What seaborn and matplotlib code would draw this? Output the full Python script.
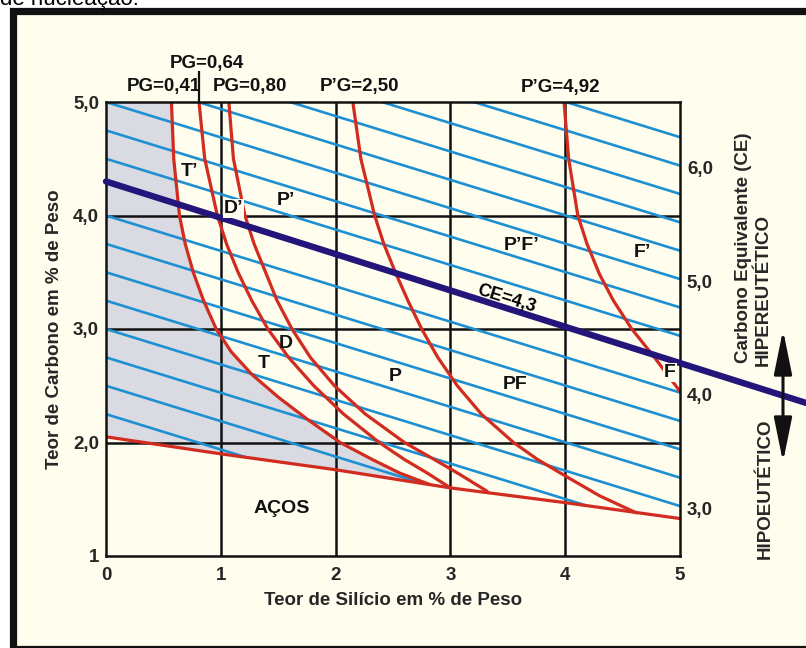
import numpy as np
import pandas as pd
import matplotlib
matplotlib.use("Agg")
import matplotlib.pyplot as plt
from matplotlib.patches import Rectangle, FancyArrowPatch
import seaborn as sns

# ---------------- data ----------------
# Graphitization-potential isolines (Si % vs C %)
pg041_si = [0.57, 0.59, 0.64, 0.69, 0.76, 0.85, 0.96, 1.09, 1.27, 1.50, 1.76, 2.04, 2.32, 2.56, 2.82]
pg041_c = [5.00, 4.50, 4.00, 3.75, 3.50, 3.25, 3.00, 2.80, 2.60, 2.40, 2.20, 2.00, 1.85, 1.73, 1.63]

pg064_si = [0.81, 0.86, 0.97, 1.05, 1.15, 1.27, 1.41, 1.59, 1.81, 2.07, 2.38, 2.60, 2.80, 3.00]
pg064_c = [5.00, 4.50, 4.00, 3.75, 3.50, 3.25, 3.00, 2.75, 2.50, 2.25, 2.00, 1.85, 1.73, 1.60]

pg080_si = [1.07, 1.11, 1.21, 1.29, 1.39, 1.49, 1.62, 1.78, 1.99, 2.26, 2.60, 2.86, 3.08, 3.32]
pg080_c = [5.00, 4.50, 4.00, 3.75, 3.50, 3.25, 3.00, 2.75, 2.50, 2.25, 2.00, 1.85, 1.72, 1.57]

ppg250_si = [2.15, 2.22, 2.34, 2.42, 2.52, 2.63, 2.75, 2.89, 3.06, 3.27, 3.55, 3.76, 4.01, 4.30, 4.62]
ppg250_c = [5.00, 4.50, 4.00, 3.75, 3.50, 3.25, 3.00, 2.75, 2.50, 2.25, 2.00, 1.85, 1.70, 1.53, 1.38]

ppg492_si = [3.99, 4.03, 4.11, 4.19, 4.30, 4.42, 4.58, 4.77, 5.00]
ppg492_c = [5.00, 4.50, 4.00, 3.75, 3.48, 3.25, 3.00, 2.76, 2.45]

# Lower limit of the cast-iron field (steels below)
boundary_si = [0, 1, 2, 3, 4, 5]
boundary_c = [2.05, 1.90, 1.76, 1.60, 1.47, 1.33]

# Constant carbon-equivalent lines
ce_levels = [2.25, 2.50, 2.75, 3.00, 3.25, 3.50, 3.75, 4.00,
             4.50, 4.75, 5.00, 5.25, 5.50, 5.75, 6.00, 6.25]
ce_slope = 0.312
eutectic_ce = 4.3
eutectic_slope = 0.32
eutectic_si_end = 6.1
ce_offset = 1.58

x_ticks = [0, 1, 2, 3, 4, 5]
x_ticklabels = ["0", "1", "2", "3", "4", "5"]
y_ticks = [1, 2, 3, 4, 5]
y_ticklabels = ["1", "2,0", "3,0", "4,0", "5,0"]
ce_ticks = [3, 4, 5, 6]
ce_ticklabels = ["3,0", "4,0", "5,0", "6,0"]

region_labels = ["T’", "D’", "P’", "T", "D", "P", "P’F’", "F’", "PF", "F", "AÇOS"]
region_si = [0.73, 1.11, 1.57, 1.37, 1.57, 2.52, 3.62, 4.67, 3.56, 4.91, 1.53]
region_c = [4.39, 4.06, 4.13, 2.70, 2.87, 2.58, 3.74, 3.67, 2.51, 2.62, 1.42]

curve_labels = ["PG=0,41", "PG=0,64", "PG=0,80", "P’G=2,50", "P’G=4,92"]
curve_label_si = [0.50, 0.88, 1.25, 2.21, 3.96]
curve_label_c = [5.14, 5.34, 5.14, 5.14, 5.13]

# ---------------- style ----------------
CREAM = "#FFFEEE"
RED = "#D22B1F"
BLUE = "#1E90D2"
NAVY = "#24157A"
GREY = "#D9DAE2"
INK = "#111111"
FS = 13.5

sns.set_theme(style="white")
plt.rcParams["font.family"] = ["Liberation Sans", "DejaVu Sans"]
plt.rcParams["font.weight"] = "bold"
plt.rcParams["axes.labelweight"] = "bold"

fig = plt.figure(figsize=(8.06, 6.48), dpi=100, facecolor="white")
W, H = 806, 648

# page frame
frame = Rectangle((13.5 / W, 1 - 649 / H), (830 - 13.5) / W, (649 - 11) / H,
                  transform=fig.transFigure, facecolor=CREAM, edgecolor=INK,
                  linewidth=5.2, zorder=-1)
fig.add_artist(frame)
fig.text(0.0, 1 - 4.5 / H, "de nucleação.", fontsize=16, fontweight="normal",
         va="baseline", ha="left", color="black")

ax = fig.add_axes([106 / W, 1 - 556 / H, 574 / W, 454 / H])
ax.set_facecolor(CREAM)
ax.set_xlim(0, 5)
ax.set_ylim(1, 5)

# grey field left of the PG=0,41 line
end_si = pg041_si[-1]
tail = [(s, c) for s, c in zip(boundary_si[::-1], boundary_c[::-1]) if s < end_si]
poly_x = [0] + pg041_si + [s for s, _ in tail]
poly_y = [5] + pg041_c + [c for _, c in tail]
ax.fill(poly_x, poly_y, color=GREY, lw=0, zorder=0.3)

# grid
for gx in [1, 2, 3, 4]:
    ax.axvline(gx, color=INK, lw=1.8, zorder=0.6)
for gy in [2, 3, 4]:
    ax.axhline(gy, color=INK, lw=1.8, zorder=0.6)

# constant-CE lines, cut at the lower boundary
si_dense = np.linspace(0, 5, 1001)
floor = np.interp(si_dense, boundary_si, boundary_c)
parts = []
for ce in ce_levels:
    c = ce - ce_slope * si_dense
    keep = c >= floor
    parts.append(pd.DataFrame({"si": si_dense[keep], "c": c[keep], "ce": ce}))
iso = pd.concat(parts, ignore_index=True)
sns.lineplot(data=iso, x="si", y="c", units="ce", estimator=None, sort=False,
             color=BLUE, lw=1.9, ax=ax, legend=False, zorder=1)

# graphitization isolines and boundary
curves = pd.concat([
    pd.DataFrame({"si": pg041_si, "c": pg041_c, "curve": "PG=0,41"}),
    pd.DataFrame({"si": pg064_si, "c": pg064_c, "curve": "PG=0,64"}),
    pd.DataFrame({"si": pg080_si, "c": pg080_c, "curve": "PG=0,80"}),
    pd.DataFrame({"si": ppg250_si, "c": ppg250_c, "curve": "P’G=2,50"}),
    pd.DataFrame({"si": ppg492_si, "c": ppg492_c, "curve": "P’G=4,92"}),
    pd.DataFrame({"si": boundary_si, "c": boundary_c, "curve": "limite"}),
], ignore_index=True)
sns.lineplot(data=curves, x="si", y="c", units="curve", estimator=None, sort=False,
             color=RED, lw=2.3, ax=ax, legend=False, zorder=2)
for ln in ax.lines[-1:]:
    ln.set_solid_joinstyle("round")

# eutectic line CE = 4,3
eut = pd.DataFrame({"si": [0, eutectic_si_end]})
eut["c"] = eutectic_ce - eutectic_slope * eut["si"]
sns.lineplot(data=eut, x="si", y="c", color=NAVY, lw=4.6, ax=ax, zorder=3)
ax.lines[-1].set_clip_on(False)

ax.text(3.49, 3.27, "CE=4,3", rotation=-17.3, ha="center", va="center",
        fontsize=13, color="black", rotation_mode="anchor", zorder=5)

for lab, s, c in zip(region_labels, region_si, region_c):
    bbox = None
    if lab in ("D’", "F"):
        bbox = dict(boxstyle="square,pad=0.05", fc=CREAM, ec="none")
    ax.text(s, c, lab, ha="center", va="center", fontsize=14, color=INK,
            bbox=bbox, zorder=5)

for lab, s, c in zip(curve_labels, curve_label_si, curve_label_c):
    ax.text(s, c, lab, ha="center", va="center", fontsize=FS, color=INK,
            clip_on=False)
ax.plot([pg064_si[0], pg064_si[0]], [5.0, 5.27], color=INK, lw=1.6,
        clip_on=False, solid_capstyle="butt")

# axes, ticks
ax.set_xticks(x_ticks, x_ticklabels)
ax.set_yticks(y_ticks, y_ticklabels)
ax.tick_params(axis="x", length=0, pad=8, labelsize=FS)
ax.tick_params(axis="y", length=0, pad=5, labelsize=FS)
for sp in ax.spines.values():
    sp.set_color(INK)
    sp.set_linewidth(1.8)
    sp.set_visible(True)

ax.set_xlabel("Teor de Silício em % de Peso", fontsize=FS, fontweight="bold")
ax.xaxis.set_label_coords(0.5, -0.097)
ax.xaxis.label.set_va("center")
ax.set_ylabel("Teor de Carbono em % de Peso", fontsize=FS, fontweight="bold")
ax.yaxis.set_label_coords(-0.089, 0.5)
ax.yaxis.label.set_va("center")

ax2 = ax.secondary_yaxis("right", functions=(lambda c: c + ce_offset,
                                             lambda ce: ce - ce_offset))
ax2.set_yticks(ce_ticks, ce_ticklabels)
ax2.tick_params(length=0, pad=5, labelsize=FS)
ax2.spines["right"].set_visible(False)

fig.text(743 / W, 1 - 248 / H, "Carbono Equivalente (CE)", rotation=90,
         ha="center", va="center", fontsize=FS)
fig.text(763 / W, 1 - 290 / H, "HIPEREUTÉTICO", rotation=90,
         ha="center", va="center", fontsize=FS)
fig.text(765 / W, 1 - 489 / H, "HIPOEUTÉTICO", rotation=90,
         ha="center", va="center", fontsize=FS)

arrow = FancyArrowPatch((783 / W, 1 - 462 / H), (783 / W, 1 - 330 / H),
                        transform=fig.transFigure,
                        arrowstyle="<|-|>,head_length=2.7,head_width=0.55",
                        mutation_scale=10, lw=2.2, color=INK,
                        shrinkA=0, shrinkB=0, zorder=6)
fig.add_artist(arrow)

fig.savefig("out.png", dpi=100)
